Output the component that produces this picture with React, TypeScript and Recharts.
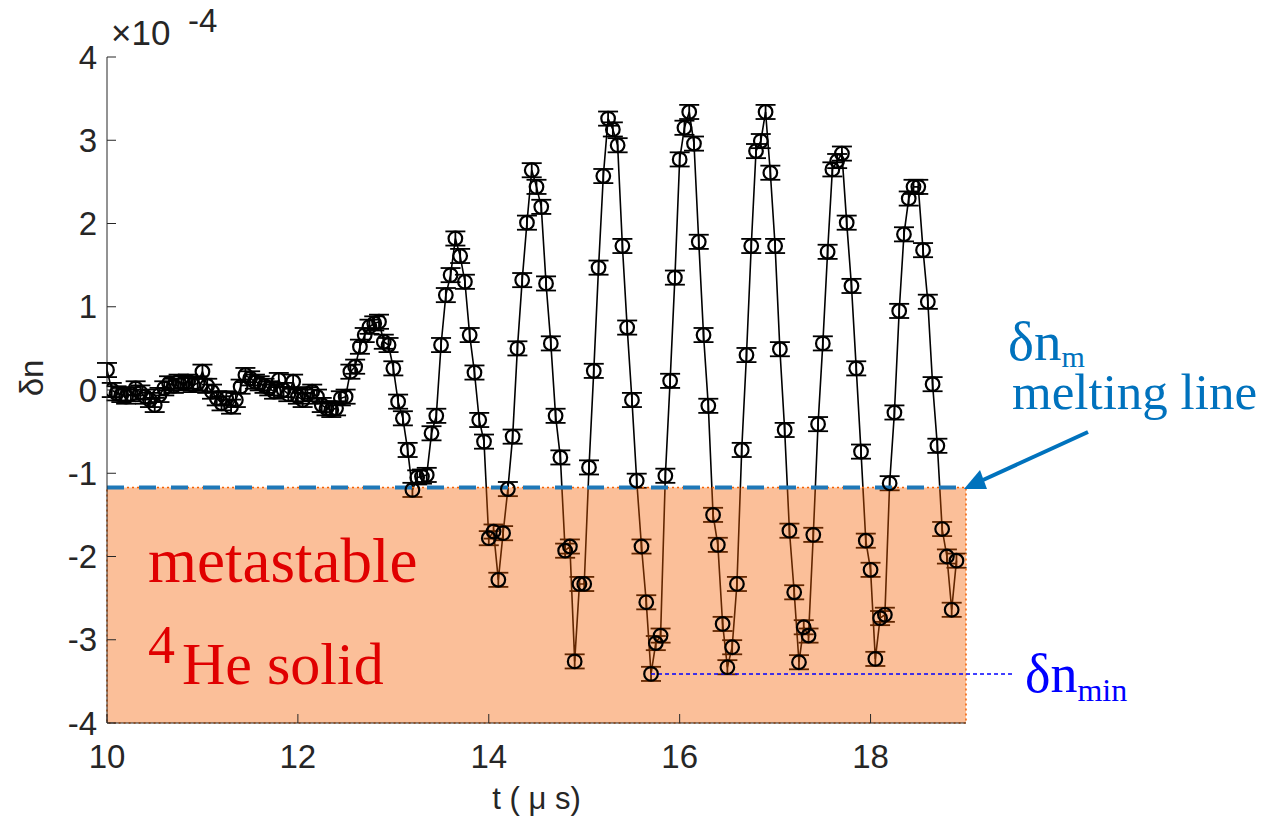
import React from 'react';
import { ComposedChart, Line, XAxis, YAxis, ErrorBar, ReferenceArea, ReferenceLine } from 'recharts';

// time axis (µs)
const times = [
  10.0, 10.05, 10.1, 10.15, 10.2, 10.25, 10.3, 10.35, 10.4, 10.45,
  10.5, 10.55, 10.6, 10.65, 10.7, 10.75, 10.8, 10.85, 10.9, 10.95,
  11.0, 11.05, 11.1, 11.15, 11.2, 11.25, 11.3, 11.35, 11.4, 11.45,
  11.5, 11.55, 11.6, 11.65, 11.7, 11.75, 11.8, 11.85, 11.9, 11.95,
  12.0, 12.05, 12.1, 12.15, 12.2, 12.25, 12.3, 12.35, 12.4, 12.45,
  12.5, 12.55, 12.6, 12.65, 12.7, 12.75, 12.8, 12.85, 12.9, 12.95,
  13.0, 13.05, 13.1, 13.15, 13.2, 13.25, 13.3, 13.35, 13.4, 13.45,
  13.5, 13.55, 13.6, 13.65, 13.7, 13.75, 13.8, 13.85, 13.9, 13.95,
  14.0, 14.05, 14.1, 14.15, 14.2, 14.25, 14.3, 14.35, 14.4, 14.45,
  14.5, 14.55, 14.6, 14.65, 14.7, 14.75, 14.8, 14.85, 14.9, 14.95,
  15.0, 15.05, 15.1, 15.15, 15.2, 15.25, 15.3, 15.35, 15.4, 15.45,
  15.5, 15.55, 15.6, 15.65, 15.7, 15.75, 15.8, 15.85, 15.9, 15.95,
  16.0, 16.05, 16.1, 16.15, 16.2, 16.25, 16.3, 16.35, 16.4, 16.45,
  16.5, 16.55, 16.6, 16.65, 16.7, 16.75, 16.8, 16.85, 16.9, 16.95,
  17.0, 17.05, 17.1, 17.15, 17.2, 17.25, 17.3, 17.35, 17.4, 17.45,
  17.5, 17.55, 17.6, 17.65, 17.7, 17.75, 17.8, 17.85, 17.9, 17.95,
  18.0, 18.05, 18.1, 18.15, 18.2, 18.25, 18.3, 18.35, 18.4, 18.45,
  18.5, 18.55, 18.6, 18.65, 18.7, 18.75, 18.8, 18.85, 18.9,
];

// δn in units of 1e-4
const deltaN = [
  0.24, 0.0, -0.04, -0.06, -0.08, -0.05, 0.02, -0.03, -0.08, -0.12,
  -0.18, -0.06, 0.02, 0.08, 0.05, 0.1, 0.08, 0.1, 0.06, 0.08,
  0.22, 0.05, -0.02, -0.1, -0.16, -0.1, -0.2, -0.12, 0.04, 0.18,
  0.14, 0.1, 0.08, 0.05, 0.02, -0.02, 0.12, 0.0, -0.05, 0.1,
  -0.08, -0.12, -0.05, -0.02, -0.08, -0.18, -0.22, -0.24, -0.22, -0.1,
  -0.08, 0.22, 0.28, 0.52, 0.66, 0.76, 0.8, 0.82, 0.58, 0.54,
  0.26, -0.14, -0.34, -0.72, -1.2, -1.05, -1.04, -1.02, -0.52, -0.31,
  0.54, 1.14, 1.38, 1.82, 1.61, 1.3, 0.66, 0.21, -0.36, -0.62,
  -1.78, -1.7, -2.28, -1.72, -1.19, -0.56, 0.5, 1.32, 2.01, 2.64,
  2.44, 2.2, 1.28, 0.56, -0.31, -0.81, -1.93, -1.88, -3.26, -2.33,
  -2.33, -0.93, 0.23, 1.47, 2.57, 3.26, 3.13, 2.94, 1.73, 0.75,
  -0.12, -1.09, -1.88, -2.55, -3.41, -3.04, -2.95, -1.03, 0.11, 1.35,
  2.77, 3.15, 3.34, 2.96, 1.78, 0.66, -0.19, -1.5, -1.86, -2.81,
  -3.33, -3.09, -2.33, -0.72, 0.42, 1.73, 2.87, 2.99, 3.34, 2.61,
  1.73, 0.49, -0.48, -1.69, -2.43, -3.27, -2.85, -2.95, -1.74, -0.41,
  0.56, 1.66, 2.65, 2.75, 2.84, 2.01, 1.25, 0.26, -0.74, -1.81,
  -2.16, -3.23, -2.74, -2.7, -1.12, -0.27, 0.95, 1.87, 2.3, 2.44,
  2.44, 1.68, 1.06, 0.07, -0.67, -1.67, -2.0, -2.64, -2.05,
];

const errorBar = 0.085; // ± error on every point
const meltingLine = -1.17;
const xTicks = [10, 12, 14, 16, 18];
const yTicks = [-4, -3, -2, -1, 0, 1, 2, 3, 4];

const data = times.map((t, i) => ({ t, dn: deltaN[i], err: errorBar }));

const minVal = Math.min(...deltaN);
const minT = times[deltaN.indexOf(minVal)];

const SANS = 'Liberation Sans, Arial, Helvetica, sans-serif';
const SERIF = 'Liberation Serif, Times New Roman, serif';
const AX = '#262626';

const tickStyle = { fill: AX, fontSize: 33, fontFamily: SANS };

export default function App() {
  return (
    <div style={{ position: 'relative', width: 1260, height: 819 }}>
      <ComposedChart
        width={1260}
        height={819}
        data={data}
        margin={{ top: 49, right: 302, bottom: 8, left: 0 }}
      >
        <XAxis
          xAxisId="b"
          type="number"
          dataKey="t"
          domain={[10, 19]}
          ticks={xTicks}
          allowDataOverflow
          height={96}
          tickSize={-9}
          tickMargin={31}
          tick={tickStyle}
          stroke={AX}
          label={{ value: 't ( μ s)', position: 'insideBottom', offset: 10, fill: AX, fontSize: 31, fontFamily: SANS }}
        />
        <XAxis
          xAxisId="top"
          orientation="top"
          type="number"
          dataKey="t"
          domain={[10, 19]}
          ticks={xTicks}
          allowDataOverflow
          height={0}
          tickSize={-9}
          tick={false}
          stroke={AX}
        />
        <YAxis
          yAxisId="l"
          type="number"
          domain={[-4, 4]}
          ticks={yTicks}
          allowDataOverflow
          width={99}
          tickSize={-9}
          tickMargin={19}
          tick={tickStyle}
          stroke={AX}
        />
        <YAxis
          yAxisId="r"
          orientation="right"
          type="number"
          domain={[-4, 4]}
          ticks={yTicks}
          allowDataOverflow
          width={0}
          tickSize={-9}
          tick={false}
          stroke={AX}
        />
        <Line
          xAxisId="b"
          yAxisId="l"
          dataKey="dn"
          stroke="#000"
          strokeWidth={1.6}
          dot={{ r: 6.8, stroke: '#000', strokeWidth: 2.2, fill: 'none' }}
          activeDot={false}
          isAnimationActive={false}
        >
          <ErrorBar dataKey="err" width={10} stroke="#000" strokeWidth={1.8} direction="y" />
        </Line>
        <ReferenceArea
          xAxisId="b"
          yAxisId="l"
          x1={10}
          x2={19}
          y1={-4}
          y2={meltingLine}
          fill="#F56000"
          fillOpacity={0.4}
          stroke="#F56000"
          strokeWidth={1.5}
          strokeDasharray="2 3"
          zIndex={450}
        />
        <ReferenceLine
          xAxisId="b"
          yAxisId="l"
          y={meltingLine}
          stroke="#1f78b8"
          strokeWidth={4}
          strokeDasharray="17 15"
          zIndex={460}
        />
        <ReferenceLine
          xAxisId="b"
          yAxisId="l"
          segment={[{ x: minT, y: minVal }, { x: 19.5, y: minVal }]}
          ifOverflow="visible"
          stroke="#0000FF"
          strokeWidth={1.5}
          strokeDasharray="4 3"
          zIndex={460}
        />
      </ComposedChart>

      <svg
        width={1260}
        height={819}
        style={{ position: 'absolute', left: 0, top: 0, pointerEvents: 'none' }}
      >
        {/* exponent */}
        <text x={103} y={37} fontSize={35} fontFamily={SANS} fill={AX}>×10</text>
        <text x={180} y={24} fontSize={33} fontFamily={SANS} fill={AX}>-4</text>
        {/* y title */}
        <text transform="translate(35,370) rotate(-90)" textAnchor="middle" fontSize={33} fontFamily={SANS} fill={AX}>δn</text>

        {/* metastable region labels */}
        <text x={140} y={574} fontSize={63} fontFamily={SERIF} fill="#E00000">metastable</text>
        <text x={140} y={655} fontSize={54} fontFamily={SERIF} fill="#E00000">4</text>
        <text x={174} y={676} fontSize={60} fontFamily={SERIF} fill="#E00000">He solid</text>

        {/* melting line label + arrow */}
        <text x={1000} y={352} fontSize={55} fontFamily={SERIF} fill="#0072BD">
          δn<tspan dy={7} fontSize={30}>m</tspan>
        </text>
        <text x={1004} y={401} fontSize={51} fontFamily={SERIF} fill="#0072BD">melting line</text>
        <line x1={1080} y1={424} x2={975} y2={472} stroke="#0072BD" strokeWidth={4} />
        <polygon points="956,481 979,481 972,462" fill="#0072BD" />

        {/* δn_min */}
        <text x={1017} y={684} fontSize={54} fontFamily={SERIF} fill="#0000FF">
          δn<tspan dy={9} fontSize={32}>min</tspan>
        </text>
      </svg>
    </div>
  );
}
